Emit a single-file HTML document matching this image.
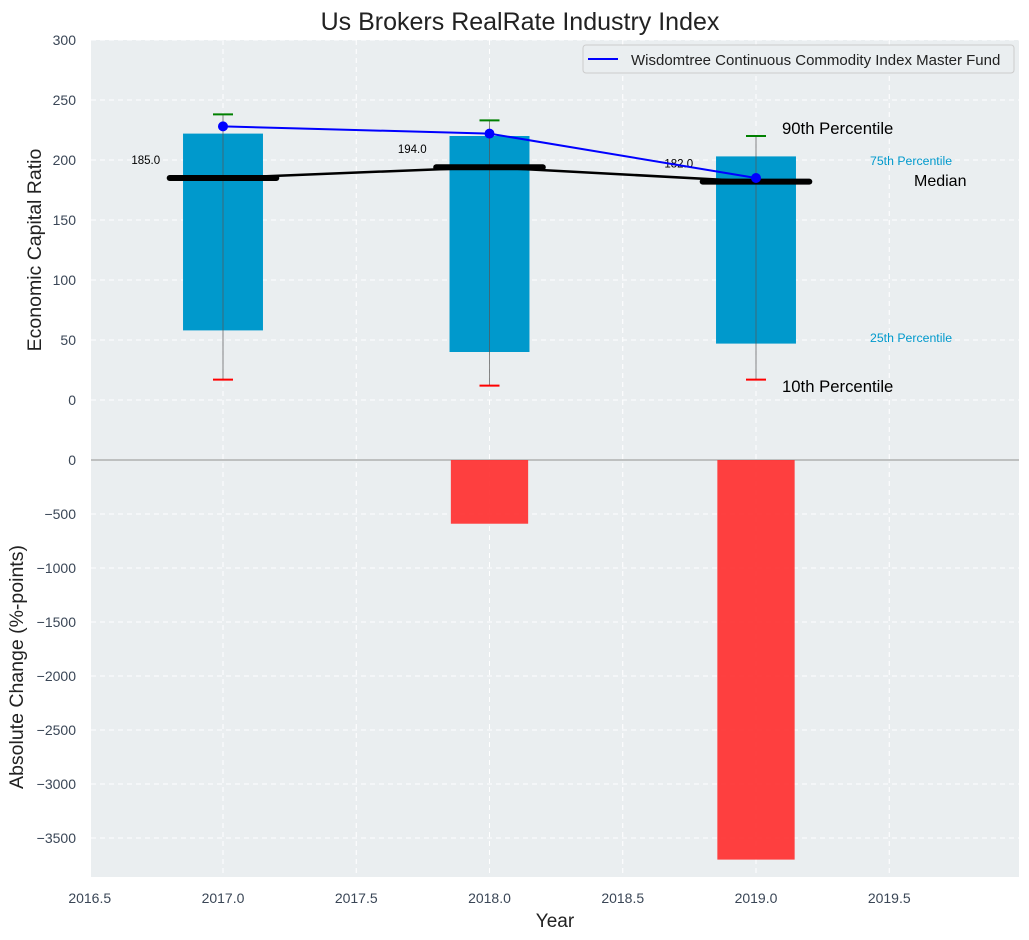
<!DOCTYPE html>
<html><head><meta charset="utf-8"><style>
body{margin:0;background:#fff;}
svg{display:block;font-family:"Liberation Sans",sans-serif;}
</style></head><body>
<svg id="chart" width="1029" height="940" xmlns="http://www.w3.org/2000/svg"></svg>
<script>
const years=[2017,2018,2019];
const q25=[58,40,47];
const q75=[222,220,203];
const p10=[17,12,17];
const p90=[238,233,220];
const medians=[185,194,182];
const fundValues=[228,222,185];
const changes=[0,-590,-3700];
const xTicks=[2016.5,2017.0,2017.5,2018.0,2018.5,2019.0,2019.5];
const topTicks=[0,50,100,150,200,250,300];
const botTicks=[0,-500,-1000,-1500,-2000,-2500,-3000,-3500];

const NS="http://www.w3.org/2000/svg";
const svg=document.getElementById('chart');
const L=91,R=1019;
const X=v=>223+(v-2017)*266.5;
const YT=v=>400-v*1.2;
const YB=v=>460-v*0.108;
function mk(t,a,txt){const e=document.createElementNS(NS,t);for(const k in a)e.setAttribute(k,a[k]);if(txt!==undefined)e.textContent=txt;svg.appendChild(e);return e;}

let e;
e=mk('rect',{x:L,y:40,width:R-L,height:419,fill:'#eaeef0'});


e=mk('rect',{x:L,y:459,width:R-L,height:418,fill:'#eaeef0'});


xTicks.forEach(t=>{
 mk('line',{x1:X(t),x2:X(t),y1:40,y2:877,stroke:'#fff','stroke-dasharray':'5,4','stroke-width':1});
 e=mk('text',{x:X(t),y:903,'text-anchor':'middle','font-size':14,fill:'#3a4656'},t.toFixed(1));
 
 
});
topTicks.forEach(t=>{
 mk('line',{x1:L,x2:R,y1:YT(t),y2:YT(t),stroke:'#fff','stroke-dasharray':'5,4'});
 e=mk('text',{x:76,y:YT(t)+5,'text-anchor':'end','font-size':14,fill:'#3a4656'},t);
 
 
});
botTicks.forEach(t=>{
 mk('line',{x1:L,x2:R,y1:YB(t),y2:YB(t),stroke:'#fff','stroke-dasharray':'5,4'});
 e=mk('text',{x:76,y:YB(t)+5,'text-anchor':'end','font-size':14,fill:'#3a4656'},String(t).replace('-','−'));
 
 
});
mk('line',{x1:L,x2:R,y1:460,y2:460,stroke:'#b0b0b0','stroke-width':1.5});
years.forEach((y,i)=>{
 e=mk('text',{x:X(y-0.29),y:YT(medians[i])-14,'text-anchor':'middle','font-size':11.5,fill:'#000'},medians[i].toFixed(1));
 
 
});
years.forEach((y,i)=>{
 e=mk('rect',{x:X(y-0.15),y:YT(q75[i]),width:0.3*266.5,height:YT(q25[i])-YT(q75[i]),fill:'#0099cc'});
 
 
 mk('line',{x1:X(y),x2:X(y),y1:YT(p90[i]),y2:YT(p10[i]),stroke:'#555','stroke-width':1,opacity:0.7});
 e=mk('line',{x1:X(y)-10,x2:X(y)+10,y1:YT(p90[i]),y2:YT(p90[i]),stroke:'green','stroke-width':2});
 
 
 e=mk('line',{x1:X(y)-10,x2:X(y)+10,y1:YT(p10[i]),y2:YT(p10[i]),stroke:'red','stroke-width':2});
 
 
 if(changes[i]!==0){
  e=mk('rect',{x:X(y-0.145),y:YB(0),width:0.29*266.5,height:YB(changes[i])-YB(0),fill:'#ff3030',opacity:0.92});
  
  
 }
});
e=mk('polyline',{points:years.map((y,i)=>X(y)+','+YT(medians[i])).join(' '),fill:'none',stroke:'#000','stroke-width':2.5});


years.forEach((y,i)=>{
 e=mk('line',{x1:X(y-0.2),x2:X(y+0.2),y1:YT(medians[i]),y2:YT(medians[i]),stroke:'#000','stroke-width':6,'stroke-linecap':'round'});
 
 
});
e=mk('polyline',{points:years.map((y,i)=>X(y)+','+YT(fundValues[i])).join(' '),fill:'none',stroke:'#0000ff','stroke-width':2});


years.forEach((y,i)=>{
 e=mk('circle',{cx:X(y),cy:YT(fundValues[i]),r:5,fill:'#0000ff'});
 
 
});
const lbl=(x,y,s,t,c,n)=>{e=mk('text',{x:x,y:y,'font-size':s,fill:c},t);};
lbl(782,134,16.7,'90th Percentile','#000','p90-label');
lbl(870,165,12.3,'75th Percentile','#0099cc','p75-label');
lbl(914,186,16,'Median','#000','median-label');
lbl(870,342,12.3,'25th Percentile','#0099cc','p25-label');
lbl(782,392,16.7,'10th Percentile','#000','p10-label');
e=mk('rect',{x:583,y:45,width:431,height:28,rx:3,fill:'#eaeef0',stroke:'#ccc'});


mk('line',{x1:588,x2:618,y1:59,y2:59,stroke:'#0000ff','stroke-width':2});
lbl(631,65,15,'Wisdomtree Continuous Commodity Index Master Fund','#222','legend-entry');
e=mk('text',{x:520,y:30,'text-anchor':'middle','font-size':25,fill:'#222'},'Us Brokers RealRate Industry Index');

e=mk('text',{x:555,y:927,'text-anchor':'middle','font-size':19,fill:'#222'},'Year');

e=mk('text',{x:0,y:0,'text-anchor':'middle','font-size':19.5,fill:'#222',transform:'translate(41,250) rotate(-90)'},'Economic Capital Ratio');

e=mk('text',{x:0,y:0,'text-anchor':'middle','font-size':19.5,fill:'#222',transform:'translate(23,667) rotate(-90)'},'Absolute Change (%-points)');

</script>
</body></html>
